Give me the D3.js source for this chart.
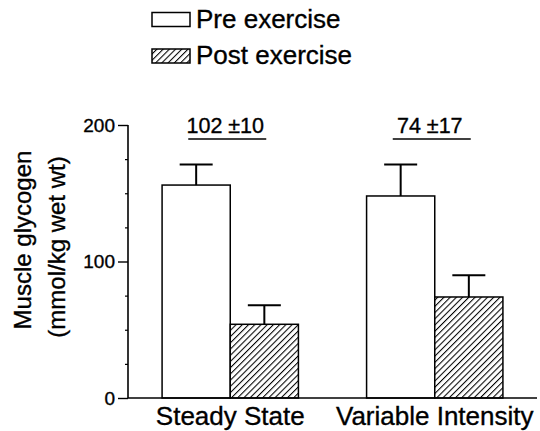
<!DOCTYPE html>
<html>
<head>
<meta charset="utf-8">
<script src="https://cdn.jsdelivr.net/npm/d3@7"></script>
<style>
  html, body { margin: 0; padding: 0; background: #fff; }
  svg { display: block; }
  text { font-family: "Liberation Sans", Arial, Helvetica, sans-serif; fill: #000; stroke: #000; stroke-width: 0.35px; }
</style>
</head>
<body>
<svg id="chart" width="540" height="431"></svg>
<script>
// ---- data ----
const groups = ["Steady State", "Variable Intensity"];
const series = ["Pre exercise", "Post exercise"];
const preValues = [156, 148];
const preErrors = [15, 23];
const postValues = [54, 74];
const postErrors = [14, 16];
const differenceLabels = ["102 \u00b110", "74 \u00b117"];
const majorTicks = [0, 100, 200];
const minorTicks = [25, 50, 75, 125, 150, 175];
const yLabelLines = ["Muscle glycogen", "(mmol/kg wet wt)"];

const rows = [];
groups.forEach((g, i) => {
  rows.push({ group: g, series: series[0], value: preValues[i], err: preErrors[i] });
  rows.push({ group: g, series: series[1], value: postValues[i], err: postErrors[i] });
});

const svg = d3.select("#chart");

// hatch pattern
const defs = svg.append("defs");
const pat = defs.append("pattern")
  .attr("id", "hatch")
  .attr("patternUnits", "userSpaceOnUse")
  .attr("width", 4.4).attr("height", 10)
  .attr("patternTransform", "rotate(45)");
pat.append("rect").attr("width", 4.4).attr("height", 10).attr("fill", "#fff");
pat.append("line").attr("x1", 0.5).attr("y1", 0).attr("x2", 0.5).attr("y2", 10)
  .attr("stroke", "#000").attr("stroke-width", 1.1);

const fillFor = s => s === series[0] ? "#fff" : "url(#hatch)";

// scales
const x0 = d3.scaleBand().domain(groups).range([128, 537]).paddingInner(1 / 3).paddingOuter(1 / 6);
const x1 = d3.scaleBand().domain(series).range([0, x0.bandwidth()]).padding(0);
const y = d3.scaleLinear().domain([0, 200]).range([398, 125]);

// bars
const bars = svg.append("g");
bars.selectAll("rect").data(rows).join("rect")
  .attr("x", d => x0(d.group) + x1(d.series))
  .attr("y", d => y(d.value))
  .attr("width", x1.bandwidth())
  .attr("height", d => y(0) - y(d.value))
  .attr("fill", d => fillFor(d.series))
  .attr("stroke", "#000")
  .attr("stroke-width", 1.5);

// error bars
const capHalf = 16.5;
const eb = svg.append("g").attr("stroke", "#000").attr("stroke-width", 2);
rows.forEach(d => {
  const cx = x0(d.group) + x1(d.series) + x1.bandwidth() / 2;
  eb.append("line").attr("x1", cx).attr("x2", cx).attr("y1", y(d.value)).attr("y2", y(d.value + d.err));
  eb.append("line").attr("x1", cx - capHalf).attr("x2", cx + capHalf)
    .attr("y1", y(d.value + d.err)).attr("y2", y(d.value + d.err));
});

// y axis
const yAxis = d3.axisLeft(y).tickValues(majorTicks).tickSize(10).tickPadding(3).tickFormat(d3.format("d"));
const gy = svg.append("g").attr("transform", "translate(128,0)").call(yAxis);
gy.select(".domain").attr("stroke-width", 1.6).attr("d", `M-0,${y(200)}V${y(0)}`);
gy.selectAll(".tick line").attr("stroke-width", 1.4);
gy.selectAll(".tick text").attr("font-size", 19).attr("font-family", "Liberation Sans, Arial, sans-serif").attr("fill", "#000");
const gyMinor = svg.append("g").attr("transform", "translate(128,0)")
  .call(d3.axisLeft(y).tickValues(minorTicks).tickSize(3).tickFormat(""));
gyMinor.select(".domain").remove();
gyMinor.selectAll(".tick line").attr("stroke-width", 1.2);

// x axis
const xAxis = d3.axisBottom(x0).tickSize(0).tickPadding(9);
const gx = svg.append("g").attr("transform", `translate(0,${y(0)})`).call(xAxis);
gx.select(".domain").attr("stroke-width", 1.6).attr("d", `M128,0H537`);
gx.selectAll(".tick text").attr("font-size", 26).attr("font-family", "Liberation Sans, Arial, sans-serif")
  .attr("fill", "#000").attr("dy", "0.71em");

// y label
yLabelLines.forEach((t, i) => {
  const lx = i === 0 ? 31 : 64.5;
  const ly = i === 0 ? 240 : 247;
  svg.append("text")
    .attr("transform", `translate(${lx},${ly}) rotate(-90)`)
    .attr("text-anchor", "middle")
    .attr("font-size", 24)
    .text(t);
});

// difference annotations
groups.forEach((g, i) => {
  const c = x0(g) + x0.bandwidth() / 2;
  svg.append("text")
    .attr("x", c - 5).attr("y", y(200) + 7.5)
    .attr("text-anchor", "middle")
    .attr("font-size", 21.5)
    .text(differenceLabels[i]);
  svg.append("line")
    .attr("x1", c - 42).attr("x2", c + 36)
    .attr("y1", y(200) + 14).attr("y2", y(200) + 14)
    .attr("stroke", "#000").attr("stroke-width", 1.6);
});

// legend
const legend = svg.append("g");
series.forEach((s, i) => {
  const ly = 12.5 + i * 36.5;
  legend.append("rect")
    .attr("x", 152).attr("y", ly).attr("width", 38).attr("height", 14)
    .attr("fill", fillFor(s)).attr("stroke", "#000").attr("stroke-width", 1.5);
  legend.append("text")
    .attr("x", 196).attr("y", ly + 15)
    .attr("font-size", 26)
    .text(s);
});
</script>
</body>
</html>
